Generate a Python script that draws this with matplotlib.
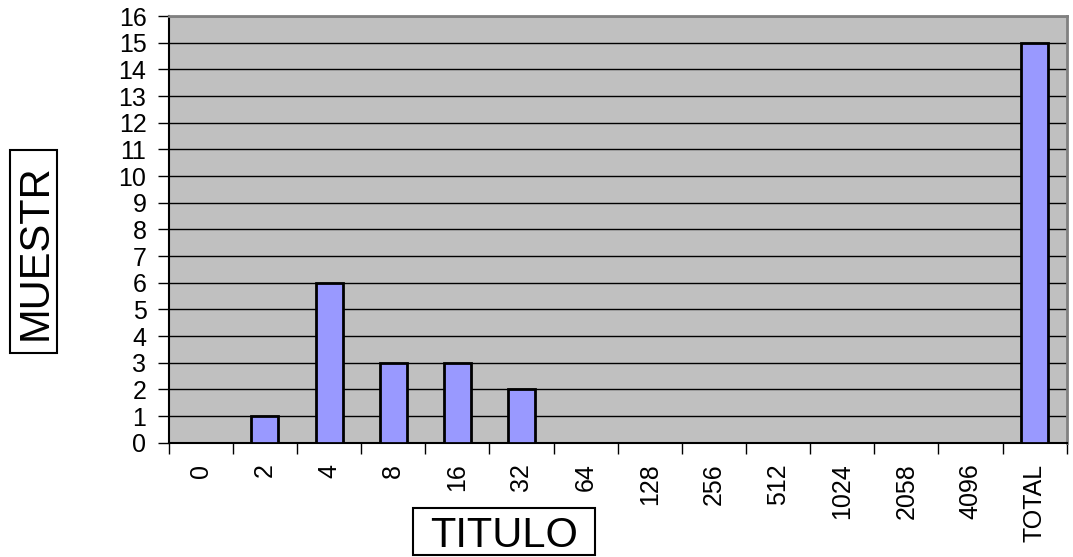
import matplotlib
matplotlib.use("Agg")
import matplotlib.pyplot as plt
from matplotlib.patches import Rectangle

categories = ["0", "2", "4", "8", "16", "32", "64", "128", "256", "512",
              "1024", "2058", "4096", "TOTAL"]
counts = [0, 1, 6, 3, 3, 2, 0, 0, 0, 0, 0, 0, 0, 15]
y_ticks = list(range(0, 17))

plt.rcParams["font.family"] = ["Liberation Sans", "DejaVu Sans"]

W, H = 1073, 557
fig = plt.figure(figsize=(W / 100, H / 100), dpi=100)
ax = fig.add_axes([168.7 / W, 1 - 442.7 / H, (1066.7 - 168.7) / W, (442.7 - 16) / H])
ax.set_facecolor("#C0C0C0")

x = list(range(len(categories)))
ax.bar(x, counts, width=0.42, color="#9999FF", edgecolor="black", linewidth=2, zorder=3)

ax.set_xlim(-0.5, len(categories) - 0.5)
ax.set_ylim(0, 16)
ax.set_yticks(y_ticks)
ax.set_yticklabels([str(v) for v in y_ticks], fontsize=18)
ax.yaxis.grid(True, color="black", linewidth=1, zorder=1)
ax.set_axisbelow(True)

# category labels centred, tick marks between categories
ax.set_xticks(x)
ax.set_xticklabels(categories, rotation=90, fontsize=18)
ax.tick_params(axis="x", length=0, pad=15)
ax.set_xticks([i - 0.5 for i in range(len(categories) + 1)], minor=True)
ax.tick_params(axis="x", which="minor", length=8, width=1, color="black")
ax.tick_params(axis="y", length=8, width=1, color="black", pad=8)

for side in ("top", "right"):
    ax.spines[side].set_color("#808080")
    ax.spines[side].set_linewidth(2)
ax.spines["left"].set_color("black")
ax.spines["left"].set_linewidth(1.5)
ax.spines["bottom"].set_color("black")
ax.spines["bottom"].set_linewidth(1.5)


def boxed_title(text, bx, by, box, rotation=0):
    """Draw a title anchored at its baseline point (bx, by) inside a framed box."""
    bx0, by0, bx1, by1 = box
    fig.patches.append(Rectangle((bx0 / W, 1 - by1 / H), (bx1 - bx0) / W, (by1 - by0) / H,
                                 transform=fig.transFigure, facecolor="white",
                                 edgecolor="black", linewidth=1.5, zorder=0))
    fig.text(bx / W, 1 - by / H, text, fontsize=30, rotation=rotation,
             rotation_mode="anchor", ha="center", va="baseline", zorder=5)


boxed_title("TITULO", 504, 547, (413, 508, 595, 555))
boxed_title("MUESTR", 47, 252, (10, 150, 57, 353), rotation=90)

fig.savefig("out.png", dpi=100)
